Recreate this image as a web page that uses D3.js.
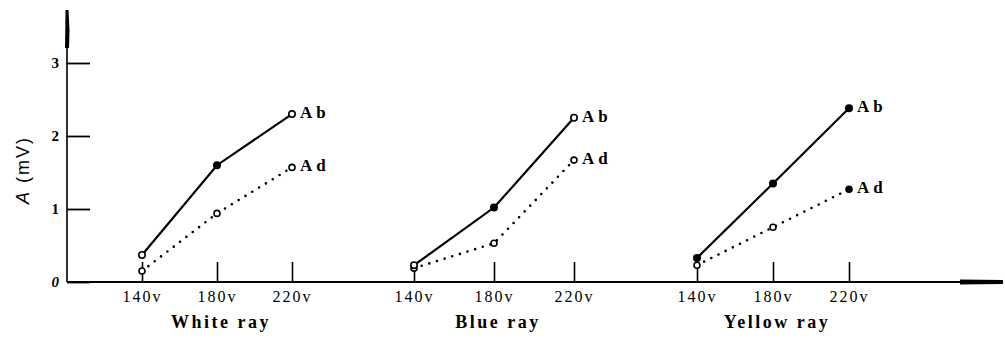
<!DOCTYPE html>
<html>
<head>
<meta charset="utf-8">
<script src="https://cdn.jsdelivr.net/npm/d3@7"></script>
<style>
  body { margin: 0; background: #fff; }
  svg { display: block; }
</style>
</head>
<body>
<div id="chart"></div>
<script>
// data
const groups = ['White ray', 'Blue ray', 'Yellow ray'];
const voltages = [140, 180, 220];
const voltLabels = ['140v', '180v', '220v'];
const yTicks = [0, 1, 2, 3];

const abValues = [
  [0.37, 1.6, 2.3],   // white
  [0.23, 1.02, 2.25], // blue
  [0.33, 1.35, 2.38]  // yellow
];
const adValues = [
  [0.15, 0.94, 1.57],
  [0.19, 0.53, 1.67],
  [0.23, 0.75, 1.27]
];
// which markers are filled
const abFilled = [[false, true, false], [false, true, false], [true, true, true]];
const adFilled = [[false, false, false], [false, false, false], [false, false, true]];

// dimensions
const W = 1005, H = 341;
const axisX = 67, axisY = 282;
// pixel span of each voltage group
const groupRanges = [[142, 292], [414, 574], [697, 849]];

const svg = d3.select('#chart').append('svg')
  .attr('width', W)
  .attr('height', H);

const y = d3.scaleLinear().domain([0, 3]).range([axisY, 63]);

// y axis line + arrow
svg.append('line')
  .attr('x1', axisX).attr('x2', axisX)
  .attr('y1', axisY).attr('y2', 12)
  .attr('stroke', '#000').attr('stroke-width', 1.6);
svg.append('path')
  .attr('d', `M${axisX - 1.5},10 L${axisX + 1.5},10 L${axisX + 2.5},30 L${axisX + 2},48 L${axisX - 2},48 Z`)
  .attr('fill', '#000');

// y ticks pointing inward
const yAxis = svg.append('g')
  .attr('transform', `translate(${axisX},0)`)
  .call(d3.axisLeft(y).tickValues(yTicks).tickSize(-23).tickPadding(8).tickFormat(d3.format('d')));
yAxis.select('.domain').remove();
yAxis.selectAll('.tick line').attr('stroke', '#000').attr('stroke-width', 1.8);
yAxis.selectAll('.tick text')
  .style('font-family', '"Liberation Serif", serif')
  .style('font-size', '15px')
  .style('font-weight', 'bold')
  .style('font-style', d => d === 0 ? 'italic' : 'normal')
  .attr('fill', '#000');

// y label
svg.append('text')
  .attr('transform', `translate(29,170) rotate(-90)`)
  .attr('text-anchor', 'middle')
  .style('font-family', '"Liberation Sans", sans-serif')
  .style('font-size', '18px')
  .style('letter-spacing', '2px')
  .html('<tspan font-style="italic">A</tspan> (mV)');

// x axis line + arrow
svg.append('line')
  .attr('x1', axisX).attr('x2', 1003)
  .attr('y1', axisY).attr('y2', axisY)
  .attr('stroke', '#000').attr('stroke-width', 1.8);
svg.append('path')
  .attr('d', `M960,${axisY - 2.5} L1003,${axisY - 2} L1003,${axisY + 2} L960,${axisY + 2.5} Z`)
  .attr('fill', '#000');

const line = d3.line();

groups.forEach((g, gi) => {
  const x = d3.scaleLinear().domain([140, 220]).range(groupRanges[gi]);

  const xAxis = svg.append('g')
    .attr('transform', `translate(0,${axisY})`)
    .call(d3.axisBottom(x).tickValues(voltages).tickSize(-20).tickPadding(9)
      .tickFormat((d, i) => voltLabels[i]));
  xAxis.select('.domain').remove();
  xAxis.selectAll('.tick line').attr('stroke', '#000').attr('stroke-width', 1.6);
  xAxis.selectAll('.tick text')
    .style('font-family', '"Liberation Serif", serif')
    .style('font-size', '16px')
    .style('letter-spacing', '2px')
    .attr('fill', '#000');

  svg.append('text')
    .attr('x', x(180) + 4)
    .attr('y', 328)
    .attr('text-anchor', 'middle')
    .style('font-family', '"Liberation Serif", serif')
    .style('font-size', '18px')
    .style('font-weight', 'bold')
    .style('letter-spacing', '2.5px')
    .text(g);

  const ab = voltages.map((v, i) => [x(v), y(abValues[gi][i])]);
  const ad = voltages.map((v, i) => [x(v), y(adValues[gi][i])]);

  // Ad dotted
  svg.append('path')
    .attr('d', line(ad))
    .attr('fill', 'none')
    .attr('stroke', '#000')
    .attr('stroke-width', 2.6)
    .attr('stroke-linecap', 'round')
    .attr('stroke-dasharray', '0 8');

  // Ab solid
  svg.append('path')
    .attr('d', line(ab))
    .attr('fill', 'none')
    .attr('stroke', '#000')
    .attr('stroke-width', 2.2);

  svg.selectAll(null)
    .data(ad)
    .enter().append('circle')
    .attr('cx', d => d[0]).attr('cy', d => d[1])
    .attr('r', 3)
    .attr('fill', (d, i) => adFilled[gi][i] ? '#000' : '#fff')
    .attr('stroke', '#000').attr('stroke-width', 1.6);

  svg.selectAll(null)
    .data(ab)
    .enter().append('circle')
    .attr('cx', d => d[0]).attr('cy', d => d[1])
    .attr('r', 3.2)
    .attr('fill', (d, i) => abFilled[gi][i] ? '#000' : '#fff')
    .attr('stroke', '#000').attr('stroke-width', 1.6);

  // series labels
  const labelStyle = sel => sel
    .attr('dominant-baseline', 'middle')
    .style('font-family', '"Liberation Serif", serif')
    .style('font-size', '17px')
    .style('font-weight', 'bold')
    .style('letter-spacing', '4px');
  svg.append('text')
    .attr('x', ab[2][0] + 8).attr('y', ab[2][1])
    .call(labelStyle)
    .text('Ab');
  svg.append('text')
    .attr('x', ad[2][0] + 8).attr('y', ad[2][1])
    .call(labelStyle)
    .text('Ad');
});
</script>
</body>
</html>
